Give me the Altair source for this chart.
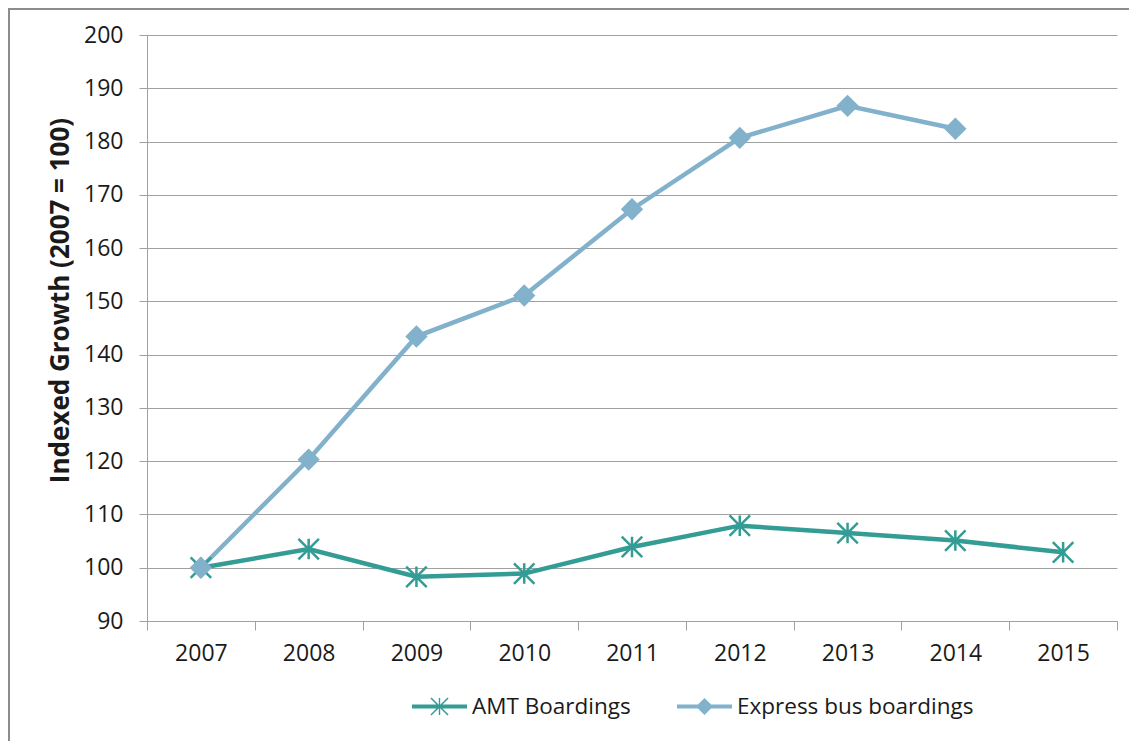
import altair as alt
import pandas as pd

years = ["2007", "2008", "2009", "2010", "2011", "2012", "2013", "2014", "2015"]
amt_values = [100, 103.5, 98.3, 98.9, 103.9, 107.9, 106.5, 105.1, 102.9]
express_values = [100, 120.3, 143.4, 151.1, 167.3, 180.7, 186.7, 182.4, None]
series_names = ["AMT Boardings", "Express bus boardings"]
series_colors = ["#339C94", "#82B1CB"]
y_ticks = list(range(90, 201, 10))

rows = []
for y, v in zip(years, amt_values):
    rows.append({"year": y, "series": series_names[0], "value": v})
for y, v in zip(years, express_values):
    if v is not None:
        rows.append({"year": y, "series": series_names[1], "value": v})
df = pd.DataFrame(rows)

STAR = "M-1,-1L1,1M-1,1L1,-1M0,-1L0,1"
DIAMOND = "M0,-1L1,0L0,1L-1,0Z"
LINE_SEG = "M-1,-0.07L1,-0.07L1,0.07L-1,0.07Z"
LEG_AMT = (LINE_SEG
           + "M-0.025,-0.31L0.025,-0.31L0.025,0.31L-0.025,0.31Z"
           + "M-0.291,-0.329L0.329,0.291L0.291,0.329L-0.329,-0.291Z"
           + "M-0.329,0.291L0.291,-0.329L0.329,-0.291L-0.291,0.329Z")
LEG_EXP = LINE_SEG + "M0,-0.31L0.31,0L0,0.31L-0.31,0Z"

FONT = "Open Sans"
GRID = "#A0A0A0"
TXT = "#1a1a1a"

x_enc = alt.X(
    "year:O",
    sort=years,
    scale=alt.Scale(type="band", paddingInner=0, paddingOuter=0),
    axis=alt.Axis(
        title=None, labelAngle=0, tickBand="extent", tickSize=9, labelPadding=12,
        grid=False, domainColor=GRID, tickColor=GRID, labelFont=FONT,
        labelFontSize=23, labelColor=TXT,
    ),
)
y_enc = alt.Y(
    "value:Q",
    scale=alt.Scale(domain=[90, 200], nice=False, zero=False),
    axis=alt.Axis(
        values=y_ticks, tickSize=8, labelPadding=16, grid=True, gridColor=GRID,
        domainColor=GRID, tickColor=GRID, labelFont=FONT, labelFontSize=23,
        labelColor=TXT, title="Indexed Growth (2007 = 100)", titleFont=FONT,
        titleFontSize=26, titleFontWeight="bold", titleColor=TXT,
        titleX=-87, titleY=265, titleAngle=270, titleAlign="center",
        titleBaseline="middle",
    ),
)

base = alt.Chart(df)

amt_pts = base.transform_filter(alt.datum.series == series_names[0]).mark_point(
    shape=STAR, size=420, strokeWidth=2.5, color=series_colors[0], filled=False, opacity=1
).encode(x=x_enc, y=y_enc)

exp_pts = base.transform_filter(alt.datum.series == series_names[1]).mark_point(
    shape=DIAMOND, size=500, color=series_colors[1], filled=True, opacity=1
).encode(x=x_enc, y=y_enc)

legend_def = alt.Legend(
    title=None, orient="none", legendX=265, legendY=644, direction="horizontal",
    symbolSize=3025, symbolStrokeWidth=0, labelOffset=5,
    columnPadding=46, labelFont=FONT, labelFontSize=22.5, labelColor=TXT,
    labelLimit=400,
)
lines = base.mark_line(strokeWidth=4.5).encode(
    x=x_enc, y=y_enc,
    color=alt.Color("series:N", scale=alt.Scale(domain=series_names, range=series_colors), legend=legend_def),
    shape=alt.Shape("series:N", scale=alt.Scale(domain=series_names, range=[LEG_AMT, LEG_EXP]), legend=legend_def),
)

frame = alt.Chart(pd.DataFrame({"frame": [1]})).mark_rect(
    fillOpacity=0, stroke="#8C8C8C", strokeWidth=2
).encode(
    x=alt.value(-138), x2=alt.value(1200), y=alt.value(-26), y2=alt.value(900)
)

chart = alt.layer(frame, lines, amt_pts, exp_pts).properties(
    width=970, height=586,
    autosize=alt.AutoSizeParams(type="none"),
    padding={"left": 139, "top": 27, "right": 12, "bottom": 120},
).configure_view(stroke=None)

chart.save("out.html", embed_options={"renderer": "svg", "actions": False})
